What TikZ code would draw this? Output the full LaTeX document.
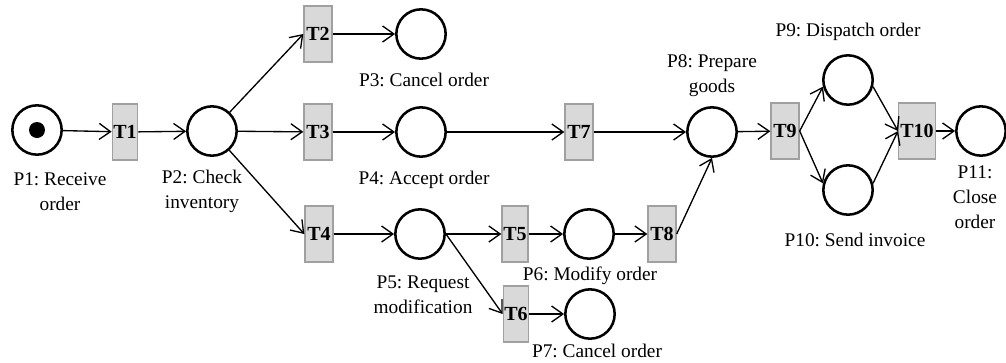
\documentclass[tikz,border=0pt]{standalone}
\usepackage{fontspec}
\setmainfont{Liberation Serif}
\usetikzlibrary{arrows.meta}
\definecolor{tfill}{RGB}{217,217,217}
\definecolor{tborder}{RGB}{160,160,160}
\tikzset{
  place/.style={circle,draw=black,line width=1.9pt,minimum size=37pt,inner sep=0pt},
  trans/.style={rectangle,draw=tborder,fill=tfill,line width=1pt,minimum width=21pt,minimum height=42pt,inner sep=0pt,font=\fontsize{15pt}{18pt}\selectfont\bfseries},
  lbl/.style={align=center,inner sep=0pt,font=\fontsize{14.5pt}{18.75pt}\selectfont\frenchspacing},
  arc/.style={line width=1pt,-{Straight Barb[length=8.5pt,width=12pt,line width=1pt]}},
}
\begin{document}
\begin{tikzpicture}[x=0.75pt,y=-0.75pt]
\useasboundingbox (0,0) rectangle (1006,362);
% places
\node[place] (P1) at (37,130) {};
\fill (P1.center) circle (6pt);
\node[place] (P2) at (212,131) {};
\node[place] (P3) at (421,34) {};
\node[place] (P4) at (421,132) {};
\node[place] (P5) at (420,234) {};
\node[place] (P6) at (589,234) {};
\node[place] (P7) at (590,314) {};
\node[place] (P8) at (712,132) {};
\node[place] (P9) at (848,80) {};
\node[place] (P10) at (848,190) {};
\node[place] (P11) at (981,131) {};
% transitions
\node[trans,minimum width=19pt] (T1) at (125,132) {T1};
\node[trans] (T2) at (318,34) {T2};
\node[trans] (T3) at (318,132) {T3};
\node[trans] (T4) at (319,234) {T4};
\node[trans,minimum width=19.5pt] (T5) at (515,234) {T5};
\node[trans,minimum width=19pt] (T6) at (516,314) {T6};
\node[trans] (T7) at (579,132) {T7};
\node[trans] (T8) at (662,234) {T8};
\node[trans] (T9) at (785,131) {T9};
\node[trans,minimum width=27.5pt] (T10) at (917,131) {T10};
% labels
\node[lbl] (L1) at (60,191.5) {P1: Receive\\order};
\node[lbl] (L2) at (202,191.5) {P2: Check\\inventory};
\node[lbl] (L3) at (424,80) {P3: Cancel order};
\node[lbl] (L4) at (424,180) {P4: Accept order};
\node[lbl] (L5) at (423,294.5) {P5: Request\\modification};
\node[lbl] (L6) at (590,276) {P6: Modify order};
\node[lbl] (L7) at (597,351) {P7: Cancel order};
\node[lbl] (L8) at (712,75.5) {P8: Prepare\\goods};
\node[lbl] (L9) at (848,32) {P9: Dispatch order};
\node[lbl] (L10) at (855,240) {P10: Send invoice};
\node[lbl] (L11) at (975,197.5) {P11:\\Close\\order};
% arcs
\draw[arc] (P1) -- (T1);
\draw[arc] (T1) -- (P2);
\draw[arc] (P2) -- (T2.west);
\draw[arc] (P2) -- (T3);
\draw[arc] (P2) -- (T4.west);
\draw[arc] (T2) -- (P3);
\draw[arc] (T3) -- (P4);
\draw[arc] (P4) -- (T7);
\draw[arc] (T7) -- (P8);
\draw[arc] (T4) -- (P5);
\draw[arc] (P5) -- (T5);
\draw[arc] (P5.east) -- (T6.west);
\draw[arc] (T5) -- (P6);
\draw[arc] (T6) -- (P7);
\draw[arc] (P6) -- (T8);
\draw[arc] (T8.east) -- (P8.south);
\draw[arc] (P8) -- (T9);
\draw[arc] (T9.east) -- (P9.195);
\draw[arc] (T9.east) -- (P10.165);
\draw[arc] (P9.-15) -- (T10.west);
\draw[arc] (P10.15) -- (T10.west);
\draw[arc] (T10) -- (P11);
\end{tikzpicture}
\end{document}
